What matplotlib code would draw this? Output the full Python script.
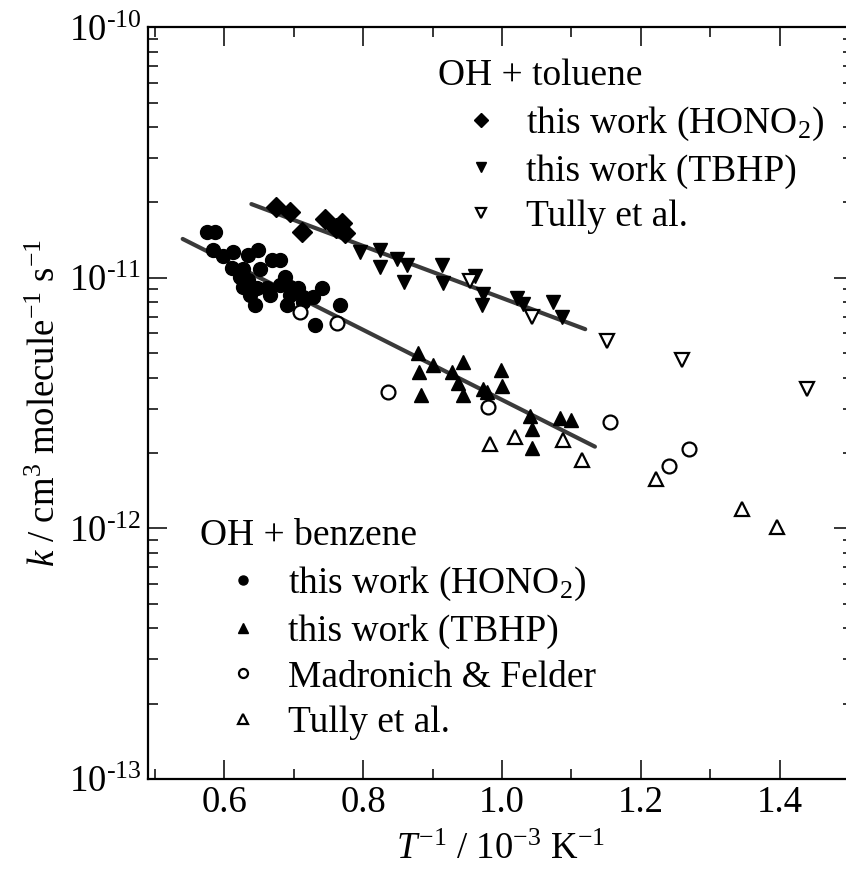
import numpy as np
import matplotlib
matplotlib.use('Agg')
from matplotlib import pyplot as plt
from matplotlib.ticker import LogLocator, MultipleLocator, FuncFormatter, NullFormatter, FixedLocator

plt.rcParams['font.family'] = ['Liberation Serif', 'DejaVu Serif']
plt.rcParams['mathtext.fontset'] = 'custom'
plt.rcParams['mathtext.rm'] = 'Liberation Serif'
plt.rcParams['mathtext.it'] = 'Liberation Serif:italic'

# OH + toluene
tol_hono2_x = [0.674, 0.695, 0.712, 0.745, 0.761, 0.769, 0.774]
tol_hono2_k = [1.92e-11, 1.83e-11, 1.53e-11, 1.72e-11, 1.58e-11, 1.66e-11, 1.51e-11]

tol_tbhp_x = [0.795, 0.824, 0.824, 0.849, 0.863, 0.859, 0.914, 0.915, 0.961, 0.973, 0.971,
              1.022, 1.030, 1.073, 1.086]
tol_tbhp_k = [1.27e-11, 1.29e-11, 1.10e-11, 1.19e-11, 1.13e-11, 9.6e-12, 1.13e-11, 9.5e-12,
              1.02e-11, 8.6e-12, 7.8e-12, 8.3e-12, 7.9e-12, 8.0e-12, 7.0e-12]

tol_tully_x = [0.954, 1.043, 1.151, 1.260, 1.439]
tol_tully_k = [9.7e-12, 7.0e-12, 5.6e-12, 4.7e-12, 3.6e-12]

# OH + benzene
ben_hono2_x = [0.575, 0.587, 0.584, 0.613, 0.598, 0.634, 0.649, 0.668, 0.680, 0.611, 0.627,
               0.651, 0.622, 0.634, 0.687, 0.627, 0.647, 0.661, 0.680, 0.695, 0.706, 0.740,
               0.637, 0.666, 0.695, 0.714, 0.728, 0.644, 0.690, 0.714, 0.767, 0.731]
ben_hono2_k = [1.53e-11, 1.53e-11, 1.29e-11, 1.27e-11, 1.22e-11, 1.23e-11, 1.29e-11, 1.18e-11,
               1.18e-11, 1.09e-11, 1.08e-11, 1.08e-11, 1.01e-11, 9.8e-12, 1.01e-11, 9.2e-12,
               9.1e-12, 9.1e-12, 9.4e-12, 9.2e-12, 9.1e-12, 9.1e-12, 8.55e-12, 8.55e-12,
               8.55e-12, 8.4e-12, 8.4e-12, 7.8e-12, 7.8e-12, 8.0e-12, 7.8e-12, 6.5e-12]

ben_tbhp_x = [0.879, 0.881, 0.901, 0.883, 0.928, 0.944, 0.937, 0.944, 0.973, 0.978, 0.998,
              1.000, 1.040, 1.043, 1.043, 1.084, 1.100]
ben_tbhp_k = [5.0e-12, 4.2e-12, 4.5e-12, 3.4e-12, 4.2e-12, 4.6e-12, 3.8e-12, 3.4e-12, 3.6e-12,
              3.5e-12, 4.3e-12, 3.7e-12, 2.8e-12, 2.5e-12, 2.1e-12, 2.75e-12, 2.7e-12]

ben_madronich_x = [0.709, 0.762, 0.836, 0.980, 1.155, 1.240, 1.269]
ben_madronich_k = [7.3e-12, 6.6e-12, 3.5e-12, 3.05e-12, 2.65e-12, 1.78e-12, 2.08e-12]

ben_tully_x = [0.983, 1.019, 1.088, 1.116, 1.222, 1.346, 1.397]
ben_tully_k = [2.17e-12, 2.32e-12, 2.25e-12, 1.88e-12, 1.57e-12, 1.20e-12, 1.01e-12]

# Arrhenius fits (end points)
tol_fit_x = [0.639, 1.120]
tol_fit_k = [1.97e-11, 6.24e-12]
ben_fit_x = [0.540, 1.134]
ben_fit_k = [1.43e-11, 2.12e-12]

y_major = [1e-13, 1e-12, 1e-11, 1e-10]

fig = plt.figure(figsize=(8.46, 8.72), dpi=100)
# right spine sits just outside the picture, as in the original
ax = fig.add_axes([148 / 846, 93 / 872, 705 / 846, 751.7 / 872])

fitcol = '#3a3a3a'
ax.plot(tol_fit_x, tol_fit_k, color=fitcol, lw=3, solid_capstyle='round', zorder=1)
ax.plot(ben_fit_x, ben_fit_k, color=fitcol, lw=3, solid_capstyle='round', zorder=1)

ms = 10
h1, = ax.plot(tol_hono2_x, tol_hono2_k, 'D', ms=10.5, color='black', ls='none')
h2, = ax.plot(tol_tbhp_x, tol_tbhp_k, 'v', ms=ms, color='black', ls='none')
h3, = ax.plot(tol_tully_x, tol_tully_k, 'v', ms=ms, mfc='white', mec='black', mew=1.6, ls='none')
h4, = ax.plot(ben_hono2_x, ben_hono2_k, 'o', ms=ms, color='black', ls='none')
h5, = ax.plot(ben_tbhp_x, ben_tbhp_k, '^', ms=ms, color='black', ls='none')
h6, = ax.plot(ben_madronich_x, ben_madronich_k, 'o', ms=ms, mfc='white', mec='black', mew=1.6, ls='none')
h7, = ax.plot(ben_tully_x, ben_tully_k, '^', ms=ms, mfc='white', mec='black', mew=1.6, ls='none')

ax.set_yscale('log')
ax.set_xlim(0.49, 0.49 + 705 / 694)
ax.set_ylim(1e-13, 1e-10)

ax.xaxis.set_major_locator(MultipleLocator(0.2))
ax.xaxis.set_minor_locator(MultipleLocator(0.1))
ax.xaxis.set_major_formatter(FuncFormatter(lambda v, p: '%.1f' % v))
ax.yaxis.set_major_locator(FixedLocator(y_major))
ax.yaxis.set_minor_locator(LogLocator(base=10, subs=np.arange(2, 10), numticks=20))
ax.yaxis.set_minor_formatter(NullFormatter())
ax.yaxis.set_major_formatter(FuncFormatter(
    lambda v, p: '10$^{\\text{-}%d}$' % round(-np.log10(v))))

ax.tick_params(which='both', direction='in', top=True, right=True, labelsize=26.5, pad=5)
ax.tick_params(which='major', length=14, width=1.1)
ax.tick_params(which='minor', length=7.5, width=1.1)
for s in ax.spines.values():
    s.set_linewidth(1.6)

ax.set_xlabel('$T^{-1}$ / 10$^{-3}$ K$^{-1}$', fontsize=26.5, labelpad=9)
ax.set_ylabel('$k$ / cm$^3$ molecule$^{-1}$ s$^{-1}$', fontsize=26.5, labelpad=4)

leg_kw = dict(frameon=False, fontsize=27, title_fontsize=27, alignment='left',
              markerscale=0.65, handlelength=2.3, handletextpad=0.05, labelspacing=0.3,
              borderpad=0, borderaxespad=0, loc='upper left')
leg1 = ax.legend([h1, h2, h3], ['this work (HONO$_2$)', 'this work (TBHP)', 'Tully et al.'],
                 title='OH + toluene', bbox_to_anchor=(0.411, 0.958), **leg_kw)
ax.add_artist(leg1)
ax.legend([h4, h5, h6, h7],
          ['this work (HONO$_2$)', 'this work (TBHP)', 'Madronich & Felder', 'Tully et al.'],
          title='OH + benzene', bbox_to_anchor=(0.0738, 0.346), **leg_kw)

fig.savefig('out.png', dpi=100)
